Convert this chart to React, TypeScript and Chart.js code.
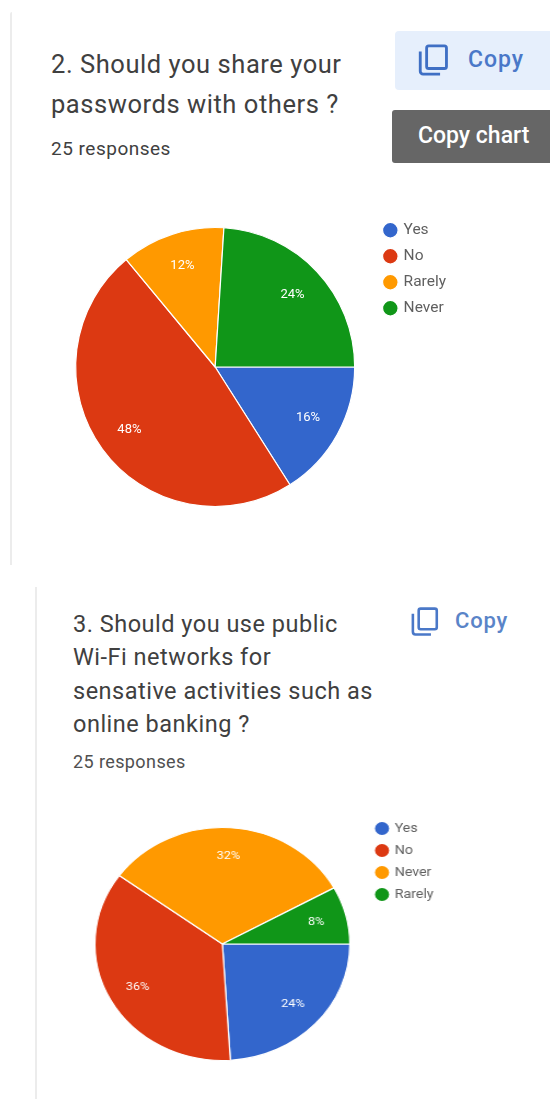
import React, { useEffect, useRef } from "react";
import { Chart, registerables } from "chart.js";

Chart.register(...registerables);

const FONT = "Roboto, sans-serif";

const sliceColors = ["#3366cc", "#dc3912", "#ff9900", "#109618"];

const passwordLabels = ["Yes", "No", "Rarely", "Never"];
const passwordCounts = [4, 12, 3, 6];

const wifiLabels = ["Yes", "No", "Never", "Rarely"];
const wifiCounts = [6, 9, 8, 2];

// Writes each slice's share of the total on top of the slice.
const percentLabels = {
  id: "percentLabels",
  afterDatasetsDraw(chart: any, _args: any, opts: any) {
    const { ctx } = chart;
    const values: number[] = chart.data.datasets[0].data;
    const total = values.reduce((a, b) => a + b, 0);
    ctx.save();
    ctx.fillStyle = "#ffffff";
    ctx.font = `${opts.size}px ${FONT}`;
    ctx.textAlign = "center";
    ctx.textBaseline = "middle";
    chart.getDatasetMeta(0).data.forEach((arc: any, i: number) => {
      const mid = (arc.startAngle + arc.endAngle) / 2;
      const dist = arc.outerRadius * 0.76;
      ctx.fillText(
        `${Math.round((values[i] / total) * 100)}%`,
        arc.x + Math.cos(mid) * dist,
        arc.y + Math.sin(mid) * dist
      );
    });
    ctx.restore();
  },
};

type PieProps = {
  labels: string[];
  counts: number[];
  left: number;
  top: number;
  width: number;
  height: number;
  radius: number;
  stretchX: number;
  legendFont: number;
  legendGap: number;
  legendBox: number;
  labelSize: number;
};

function Pie(p: PieProps) {
  const ref = useRef<HTMLCanvasElement>(null);
  useEffect(() => {
    const chart = new Chart(ref.current as HTMLCanvasElement, {
      type: "pie",
      data: {
        labels: p.labels,
        datasets: [
          {
            data: p.counts,
            backgroundColor: sliceColors,
            borderColor: "#ffffff",
            borderWidth: 1.2,
            radius: p.radius,
          },
        ],
      },
      options: {
        animation: false,
        responsive: false,
        rotation: 90,
        layout: { padding: 0 },
        plugins: {
          tooltip: { enabled: false },
          legend: {
            position: "right",
            align: "start",
            labels: {
              usePointStyle: true,
              pointStyle: "circle",
              boxWidth: p.legendBox,
              boxHeight: p.legendBox,
              padding: p.legendGap,
              color: "#5f5f5f",
              font: { family: FONT, size: p.legendFont },
            },
          },
          percentLabels: { size: p.labelSize },
        } as any,
      },
      plugins: [percentLabels],
    });
    return () => chart.destroy();
  }, []);
  return (
    <canvas
      ref={ref}
      width={p.width}
      height={p.height}
      style={{
        position: "absolute",
        left: p.left,
        top: p.top,
        width: p.width,
        height: p.height,
        transform: `scaleX(${p.stretchX})`,
        transformOrigin: "left top",
      }}
    />
  );
}

function CopyIcon({ x, y, size, color }: { x: number; y: number; size: number; color: string }) {
  return (
    <svg
      viewBox="0 0 24 24"
      width={size}
      height={size}
      style={{ position: "absolute", left: x, top: y }}
      fill="none"
      stroke={color}
      strokeWidth={2}
    >
      <rect x="7.5" y="2" width="14" height="16" rx="1.5" />
      <path d="M3 6 V20 a2 2 0 0 0 2 2 H17" />
    </svg>
  );
}

function Text(props: {
  x: number;
  y: number;
  size: number;
  color: string;
  weight?: number;
  spacing?: number;
  children: string;
}) {
  // y is the vertical middle of the line
  return (
    <div
      style={{
        position: "absolute",
        left: props.x,
        top: props.y - 20,
        height: 40,
        lineHeight: "40px",
        whiteSpace: "nowrap",
        fontFamily: FONT,
        fontSize: props.size,
        fontWeight: props.weight ?? 400,
        letterSpacing: props.spacing ?? 0,
        color: props.color,
      }}
    >
      {props.children}
    </div>
  );
}

function Box(props: { x: number; y: number; w: number; h: number; bg: string; radius?: string }) {
  return (
    <div
      style={{
        position: "absolute",
        left: props.x,
        top: props.y,
        width: props.w,
        height: props.h,
        background: props.bg,
        borderRadius: props.radius ?? 0,
      }}
    />
  );
}

export default function App() {
  return (
    <div
      style={{
        position: "absolute",
        left: 0,
        top: 0,
        width: 550,
        height: 1099,
        overflow: "hidden",
        background: "#ffffff",
      }}
    >
      <Box x={10} y={12} w={2} h={553} bg="#ececec" radius="2px 0 0 0" />
      <Box x={35} y={587} w={2} h={512} bg="#ececec" />

      <Text x={51} y={64} size={25.5} color="#404040" spacing={0.55}>2. Should you share your</Text>
      <Text x={51} y={104} size={25.5} color="#404040" spacing={0.55}>passwords with others ?</Text>
      <Text x={51} y={149} size={19} color="#404040" spacing={0.5}>25 responses</Text>

      <Box x={395} y={31} w={155} h={59} bg="#e6effc" radius="4px 0 0 4px" />
      <CopyIcon x={416} y={43} size={34} color="#3f6fc4" />
      <Text x={468} y={60} size={23} weight={500} spacing={1} color="#4a78c8">Copy</Text>
      <Box x={392} y={110} w={158} h={53} bg="#666666" radius="3px 0 0 3px" />
      <Text x={418} y={136} size={23} weight={500} color="#ffffff">Copy chart</Text>

      <Pie
        labels={passwordLabels}
        counts={passwordCounts}
        left={56}
        top={212}
        width={400}
        height={310}
        radius={139.5}
        stretchX={1}
        legendFont={15.5}
        legendGap={10.5}
        legendBox={11}
        labelSize={13}
      />

      <Text x={73} y={624} size={23.5} color="#404040" spacing={0.5}>3. Should you use public</Text>
      <Text x={73} y={657} size={23.5} color="#404040" spacing={0.5}>Wi-Fi networks for</Text>
      <Text x={73} y={691} size={23.5} color="#404040" spacing={0.5}>sensative activities such as</Text>
      <Text x={73} y={724} size={23.5} color="#404040" spacing={0.5}>online banking ?</Text>
      <Text x={73} y={762} size={18} color="#505050" spacing={0.4}>25 responses</Text>

      <CopyIcon x={409} y={606} size={31} color="#4a78c8" />
      <Text x={455} y={621} size={22} weight={500} spacing={0.8} color="#5a84c8">Copy</Text>

      <Pie
        labels={wifiLabels}
        counts={wifiCounts}
        left={78}
        top={813}
        width={335}
        height={262}
        radius={116.5}
        stretchX={1.094}
        legendFont={13}
        legendGap={9}
        legendBox={10}
        labelSize={11.5}
      />
    </div>
  );
}
